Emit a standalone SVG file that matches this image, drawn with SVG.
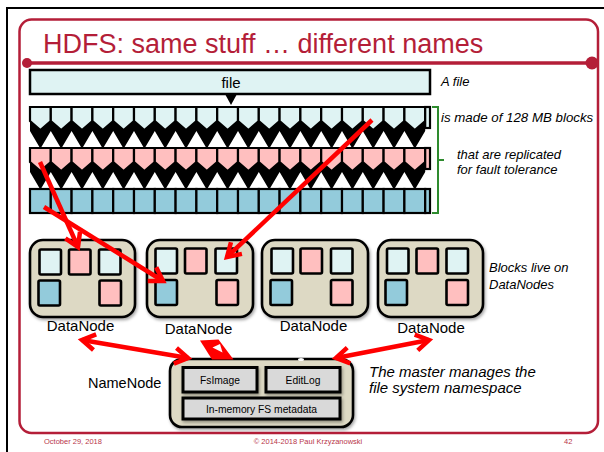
<svg xmlns="http://www.w3.org/2000/svg" xmlns:xlink="http://www.w3.org/1999/xlink" width="604" height="452" viewBox="0 0 604 452">
  <style>
    .sans { font-family: "Liberation Sans", Arial, sans-serif; }
    .note { font-family: "Liberation Sans", Arial, sans-serif; font-style: italic; fill: #000; }
    .cy { fill: #DFF3F3; }
    .pk { fill: #FFBFBF; }
    .bl { fill: #93CBDB; }
    .cell { stroke: #000; stroke-width: 2.2; stroke-linejoin: miter; }
    .blk { stroke: #000; stroke-width: 2.6; }
    .host { fill: #DDD9C4; stroke: #000; stroke-width: 2.6; }
    .gray { fill: #D9D9D9; stroke: #000; stroke-width: 3; }
    .dnlabel { font-family: "Liberation Sans", Arial, sans-serif; font-size: 15px; text-anchor: middle; fill: #000; }
    .arrow { stroke: #FF0000; stroke-width: 4.5; fill: none; }
    .foot { font-family: "Liberation Sans", Arial, sans-serif; font-size: 7.5px; fill: #B8364A; }
  </style>
  <defs>
    <!-- one block of a row: square top, pointed bottom -->
    <path id="pent" d="M0,0H20.8V14L10.4,23L0,14Z"/>
    <rect id="sq" width="20.8" height="24"/>
    <!-- black zig-zag strip between two rows of blocks -->
    <path id="band" d="M30,0 H425.2 V12 L415.8,28 H413.8 L404.4,12 L395,28 H393 L383.6,12 L374.2,28 H372.2 L362.8,12 L353.4,28 H351.4 L342,12 L332.6,28 H330.6 L321.2,12 L311.8,28 H309.8 L300.4,12 L291,28 H289 L279.6,12 L270.2,28 H268.2 L258.8,12 L249.4,28 H247.4 L238,12 L228.6,28 H226.6 L217.2,12 L207.8,28 H205.8 L196.4,12 L187,28 H185 L175.6,12 L166.2,28 H164.2 L154.8,12 L145.4,28 H143.4 L134,12 L124.6,28 H122.6 L113.2,12 L103.8,28 H101.8 L92.4,12 L83,28 H81 L71.6,12 L62.2,28 H60.2 L50.8,12 L41.4,28 H39.4 L30,12 Z"/>
    <filter id="shadow" x="-15%" y="-15%" width="140%" height="140%">
      <feDropShadow dx="1.2" dy="2" stdDeviation="1.4" flood-color="#000" flood-opacity="0.35"/>
    </filter>
    <marker id="chev" markerUnits="userSpaceOnUse" markerWidth="40" markerHeight="40" refX="0" refY="0" orient="auto-start-reverse" overflow="visible">
      <path d="M-13,-8 L0,0 L-13,8" fill="none" stroke="#FF0000" stroke-width="4.5" stroke-linejoin="miter"/>
    </marker>
  </defs>

  <rect width="604" height="452" fill="#fff"/>
  <!-- slide edge -->
  <path d="M7,452 V8 H604" fill="none" stroke="#000" stroke-width="2"/>

  <!-- slide frame and title -->
  <g id="frame">
    <rect x="19.5" y="19.5" width="578.5" height="413.5" rx="12" fill="none" stroke="#B41E38" stroke-width="2.5"/>
    <line x1="27" y1="63" x2="592" y2="63" stroke="#B41E38" stroke-width="3.5"/>
    <circle cx="27" cy="63" r="5" fill="#B41E38"/>
    <circle cx="592" cy="63" r="6.5" fill="#B41E38"/>
    <text x="43" y="53" class="sans" font-size="27" fill="#B41E38">HDFS: same stuff … different names</text>
  </g>

  <!-- the whole file -->
  <g id="file">
    <rect x="30" y="70" width="400" height="24" class="cy" stroke="#000" stroke-width="2.5"/>
    <text x="231" y="88" class="sans" font-size="15" text-anchor="middle">file</text>
    <polygon points="225,94 237,94 231,105" fill="#000"/>
  </g>

  <!-- zig-zag strips -->
  <use xlink:href="#band" href="#band" transform="translate(0,119)" fill="#000"/>
  <use xlink:href="#band" href="#band" transform="translate(0,160)" fill="#000"/>

  <!-- row 1: the blocks of the file -->
  <g id="blocks" class="cy cell">
    <use href="#pent" xlink:href="#pent" x="30" y="107"/>
    <use href="#pent" xlink:href="#pent" x="50.8" y="107"/>
    <use href="#pent" xlink:href="#pent" x="71.6" y="107"/>
    <use href="#pent" xlink:href="#pent" x="92.4" y="107"/>
    <use href="#pent" xlink:href="#pent" x="113.2" y="107"/>
    <use href="#pent" xlink:href="#pent" x="134" y="107"/>
    <use href="#pent" xlink:href="#pent" x="154.8" y="107"/>
    <use href="#pent" xlink:href="#pent" x="175.6" y="107"/>
    <use href="#pent" xlink:href="#pent" x="196.4" y="107"/>
    <use href="#pent" xlink:href="#pent" x="217.2" y="107"/>
    <use href="#pent" xlink:href="#pent" x="238" y="107"/>
    <use href="#pent" xlink:href="#pent" x="258.8" y="107"/>
    <use href="#pent" xlink:href="#pent" x="279.6" y="107"/>
    <use href="#pent" xlink:href="#pent" x="300.4" y="107"/>
    <use href="#pent" xlink:href="#pent" x="321.2" y="107"/>
    <use href="#pent" xlink:href="#pent" x="342" y="107"/>
    <use href="#pent" xlink:href="#pent" x="362.8" y="107"/>
    <use href="#pent" xlink:href="#pent" x="383.6" y="107"/>
    <use href="#pent" xlink:href="#pent" x="404.4" y="107"/>
    <rect x="425.2" y="107" width="4.8" height="21"/>
  </g>

  <!-- row 2: first replica -->
  <g id="replica-1" class="pk cell">
    <use href="#pent" xlink:href="#pent" x="30" y="148"/>
    <use href="#pent" xlink:href="#pent" x="50.8" y="148"/>
    <use href="#pent" xlink:href="#pent" x="71.6" y="148"/>
    <use href="#pent" xlink:href="#pent" x="92.4" y="148"/>
    <use href="#pent" xlink:href="#pent" x="113.2" y="148"/>
    <use href="#pent" xlink:href="#pent" x="134" y="148"/>
    <use href="#pent" xlink:href="#pent" x="154.8" y="148"/>
    <use href="#pent" xlink:href="#pent" x="175.6" y="148"/>
    <use href="#pent" xlink:href="#pent" x="196.4" y="148"/>
    <use href="#pent" xlink:href="#pent" x="217.2" y="148"/>
    <use href="#pent" xlink:href="#pent" x="238" y="148"/>
    <use href="#pent" xlink:href="#pent" x="258.8" y="148"/>
    <use href="#pent" xlink:href="#pent" x="279.6" y="148"/>
    <use href="#pent" xlink:href="#pent" x="300.4" y="148"/>
    <use href="#pent" xlink:href="#pent" x="321.2" y="148"/>
    <use href="#pent" xlink:href="#pent" x="342" y="148"/>
    <use href="#pent" xlink:href="#pent" x="362.8" y="148"/>
    <use href="#pent" xlink:href="#pent" x="383.6" y="148"/>
    <use href="#pent" xlink:href="#pent" x="404.4" y="148"/>
    <rect x="425.2" y="148" width="4.8" height="21"/>
  </g>

  <!-- row 3: second replica -->
  <g id="replica-2" class="bl cell">
    <use href="#sq" xlink:href="#sq" x="30" y="189"/>
    <use href="#sq" xlink:href="#sq" x="50.8" y="189"/>
    <use href="#sq" xlink:href="#sq" x="71.6" y="189"/>
    <use href="#sq" xlink:href="#sq" x="92.4" y="189"/>
    <use href="#sq" xlink:href="#sq" x="113.2" y="189"/>
    <use href="#sq" xlink:href="#sq" x="134" y="189"/>
    <use href="#sq" xlink:href="#sq" x="154.8" y="189"/>
    <use href="#sq" xlink:href="#sq" x="175.6" y="189"/>
    <use href="#sq" xlink:href="#sq" x="196.4" y="189"/>
    <use href="#sq" xlink:href="#sq" x="217.2" y="189"/>
    <use href="#sq" xlink:href="#sq" x="238" y="189"/>
    <use href="#sq" xlink:href="#sq" x="258.8" y="189"/>
    <use href="#sq" xlink:href="#sq" x="279.6" y="189"/>
    <use href="#sq" xlink:href="#sq" x="300.4" y="189"/>
    <use href="#sq" xlink:href="#sq" x="321.2" y="189"/>
    <use href="#sq" xlink:href="#sq" x="342" y="189"/>
    <use href="#sq" xlink:href="#sq" x="362.8" y="189"/>
    <use href="#sq" xlink:href="#sq" x="383.6" y="189"/>
    <use href="#sq" xlink:href="#sq" x="404.4" y="189"/>
    <rect x="425.2" y="189" width="4.8" height="24"/>
  </g>

  <!-- bracket round the three rows -->
  <path d="M432,107 H438 V213 H432 M438,160 H444" fill="none" stroke="#2E8B2E" stroke-width="2"/>

  <!-- side notes -->
  <g id="notes">
    <text x="441" y="86" class="note" font-size="13">A file</text>
    <text x="441" y="122" class="note" font-size="13.3">is made of 128 MB blocks</text>
    <text x="457" y="159" class="note" font-size="13">that are replicated</text>
    <text x="457" y="174" class="note" font-size="13">for fault tolerance</text>
    <text x="489" y="272" class="note" font-size="13">Blocks live on</text>
    <text x="489" y="289" class="note" font-size="13">DataNodes</text>
    <text x="369" y="377" class="note" font-size="15">The master manages the</text>
    <text x="369" y="393" class="note" font-size="15">file system namespace</text>
  </g>

  <!-- DataNodes -->
  <g id="datanode-1" transform="translate(30,240)">
    <rect class="host" width="105" height="77" rx="13" filter="url(#shadow)"/>
    <rect class="blk cy" x="9.5" y="9.5" width="21.5" height="25" rx="1.5"/>
    <rect class="blk pk" x="39" y="9.5" width="21.5" height="25" rx="1.5"/>
    <rect class="blk cy" x="69" y="9.5" width="21.5" height="25" rx="1.5"/>
    <rect class="blk bl" x="8.5" y="40.5" width="21.5" height="25" rx="1.5"/>
    <rect class="blk pk" x="69.5" y="40.5" width="21.5" height="25" rx="1.5"/>
    <text class="dnlabel" x="50.5" y="91">DataNode</text>
  </g>
  <g id="datanode-2" transform="translate(147,240)">
    <rect class="host" width="106" height="77" rx="13" filter="url(#shadow)"/>
    <rect class="blk cy" x="8.5" y="8.5" width="21.5" height="25" rx="1.5"/>
    <rect class="blk pk" x="38" y="8.5" width="21.5" height="25" rx="1.5"/>
    <rect class="blk cy" x="68.5" y="8.5" width="21.5" height="25" rx="1.5"/>
    <rect class="blk bl" x="8.5" y="40" width="21.5" height="25" rx="1.5"/>
    <rect class="blk pk" x="69.5" y="40" width="21.5" height="25" rx="1.5"/>
    <text class="dnlabel" x="51.5" y="94">DataNode</text>
  </g>
  <g id="datanode-3" transform="translate(262,240)">
    <rect class="host" width="106" height="77" rx="13" filter="url(#shadow)"/>
    <rect class="blk cy" x="9.5" y="8.5" width="21.5" height="25" rx="1.5"/>
    <rect class="blk pk" x="38.5" y="8.5" width="21.5" height="25" rx="1.5"/>
    <rect class="blk cy" x="69" y="8.5" width="21.5" height="25" rx="1.5"/>
    <rect class="blk bl" x="8.5" y="40" width="21.5" height="25" rx="1.5"/>
    <rect class="blk pk" x="69" y="40" width="21.5" height="25" rx="1.5"/>
    <text class="dnlabel" x="51.5" y="91">DataNode</text>
  </g>
  <g id="datanode-4" transform="translate(378,240)">
    <rect class="host" width="105" height="77" rx="13" filter="url(#shadow)"/>
    <rect class="blk cy" x="9" y="8.5" width="21.5" height="25" rx="1.5"/>
    <rect class="blk pk" x="38.5" y="8.5" width="21.5" height="25" rx="1.5"/>
    <rect class="blk cy" x="68.5" y="8.5" width="21.5" height="25" rx="1.5"/>
    <rect class="blk bl" x="7.5" y="40" width="21.5" height="25" rx="1.5"/>
    <rect class="blk pk" x="68.5" y="40" width="21.5" height="25" rx="1.5"/>
    <text class="dnlabel" x="53" y="93">DataNode</text>
  </g>

  <!-- NameNode -->
  <g id="namenode">
    <text x="88" y="388" class="sans" font-size="14.5">NameNode</text>
    <rect class="host" x="170" y="359" width="183" height="68" rx="12" filter="url(#shadow)"/>
    <rect class="gray" x="183" y="367.5" width="74" height="24.5" filter="url(#shadow)"/>
    <rect class="gray" x="266" y="367.5" width="74" height="24.5" filter="url(#shadow)"/>
    <rect class="gray" x="183" y="398" width="157" height="21" filter="url(#shadow)"/>
    <text x="220" y="384" class="sans" font-size="10.3" text-anchor="middle">FsImage</text>
    <text x="303" y="384" class="sans" font-size="10.3" text-anchor="middle">EditLog</text>
    <text x="261.5" y="412.5" class="sans" font-size="10.3" text-anchor="middle">In-memory FS metadata</text>
    <ellipse cx="301" cy="359.5" rx="3" ry="1.6" fill="#fff"/>
  </g>

  <!-- connectors -->
  <g id="connectors" class="arrow">
    <line x1="40" y1="162" x2="78" y2="247" marker-end="url(#chev)"/>
    <line x1="44" y1="207" x2="163" y2="281" marker-end="url(#chev)"/>
    <line x1="372" y1="120" x2="227" y2="257" marker-end="url(#chev)"/>
    <line x1="82" y1="340" x2="188" y2="358" marker-start="url(#chev)" marker-end="url(#chev)"/>
    <!-- very short two-way link: both heads overlap into one solid shape -->
    <path d="M200,340.5 L218.5,339.5 L233.5,359.5 L212,359.5 Z" fill="#FF0000" stroke="none"/>
    <path d="M212.5,347.5 L220,344 L222.5,352.5 Z" fill="#fff" stroke="none"/>
    <line x1="336" y1="358" x2="429" y2="340" marker-start="url(#chev)" marker-end="url(#chev)"/>
  </g>

  <!-- footer -->
  <g id="footer">
    <text x="44" y="444" class="foot">October 29, 2018</text>
    <text x="308" y="444" class="foot" text-anchor="middle">© 2014-2018 Paul Krzyzanowski</text>
    <text x="564" y="444" class="foot">42</text>
  </g>
</svg>
